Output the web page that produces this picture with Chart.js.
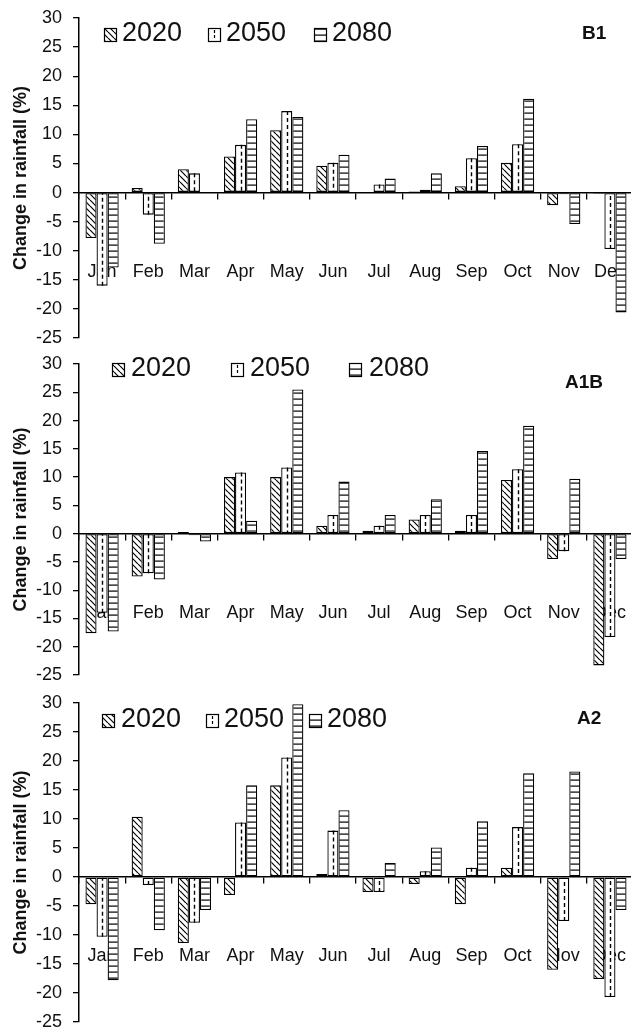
<!DOCTYPE html>
<html><head><meta charset="utf-8">
<script src="https://cdn.jsdelivr.net/npm/chart.js@4.4.1/dist/chart.umd.min.js"></script>
<style>
html,body{margin:0;padding:0;background:#fff;overflow:hidden;width:631px;height:1032px;position:relative;}
canvas{position:absolute;left:0;display:block;}
</style></head><body>
<canvas id="c1" width="640" height="364" style="top:-4px"></canvas>
<canvas id="c2" width="640" height="355" style="top:342px"></canvas>
<canvas id="c3" width="640" height="363" style="top:681px"></canvas>
<script>
// ---------- data ----------
const months = ['Jan','Feb','Mar','Apr','May','Jun','Jul','Aug','Sep','Oct','Nov','Dec'];
const seriesLabels = ['2020','2050','2080'];
const yMin = -25, yMax = 30, yStep = 5;
const yTitle = 'Change in rainfall (%)';

const b1_2020 = [-7.8, 0.8, 4.0, 6.2, 10.7, 4.6, 0, 0.2, 1.1, 5.1, -2.2, -0.2];
const b1_2050 = [-16.0, -3.8, 3.3, 8.2, 14.0, 5.1, 1.4, 0.5, 5.9, 8.3, -0.3, -9.7];
const b1_2080 = [-12.9, -8.8, 0, 12.6, 13.0, 6.5, 2.4, 3.3, 8.0, 16.1, -5.4, -20.6];

const a1b_2020 = [-17.6, -7.6, 0.3, 10.0, 10.0, 1.4, 0.5, 2.5, 0.5, 9.5, -4.5, -23.3];
const a1b_2050 = [-14.0, -7.0, -0.3, 10.8, 11.7, 3.3, 1.4, 3.3, 3.3, 11.4, -3.1, -18.3];
const a1b_2080 = [-17.3, -8.1, -1.4, 2.3, 25.5, 9.2, 3.3, 6.1, 14.6, 19.1, 9.7, -4.5];

const a2_2020 = [-4.7, 10.4, -11.4, -3.1, 15.8, 0.5, -2.6, -1.2, -4.7, 1.6, -16.0, -17.6];
const a2_2050 = [-10.3, -1.4, -7.9, 9.4, 20.6, 8.0, -2.6, 1.0, 1.6, 8.6, -7.6, -20.7];
const a2_2080 = [-17.8, -9.2, -5.7, 15.8, 29.8, 11.5, 2.4, 5.1, 9.6, 17.9, 18.2, -5.7];

// ---------- styles ----------
const FONT = '"Liberation Sans", Arial, Helvetica, sans-serif';
const INK = '#111';

function hatchPattern(){
  const c = document.createElement('canvas'); c.width = 6; c.height = 6;
  const x = c.getContext('2d');
  x.fillStyle = '#fff'; x.fillRect(0,0,6,6);
  x.strokeStyle = '#000'; x.lineWidth = 1.2;
  x.beginPath();
  for (const k of [-6,0,6]) { x.moveTo(k,0); x.lineTo(k+6,6); }
  x.stroke();
  return x.createPattern(c,'repeat');
}
function stripePattern(){
  const c = document.createElement('canvas'); c.width = 6; c.height = 6;
  const x = c.getContext('2d');
  x.fillStyle = '#fff'; x.fillRect(0,0,6,6);
  x.fillStyle = '#000'; x.fillRect(0,2.5,6,1.2);
  return x.createPattern(c,'repeat');
}

const dashPlugin = {
  id:'dash2050',
  afterDatasetsDraw(chart){
    const ctx = chart.ctx;
    const meta = chart.getDatasetMeta(1);
    ctx.save();
    ctx.strokeStyle = '#000'; ctx.lineWidth = 1.4; ctx.setLineDash([4,3]);
    meta.data.forEach(el => {
      const {x, y, base} = el.getProps(['x','y','base'], true);
      if (Math.abs(base - y) < 3) return;
      ctx.beginPath(); ctx.moveTo(Math.round(x)+0.5, y); ctx.lineTo(Math.round(x)+0.5, base); ctx.stroke();
    });
    ctx.restore();
  }
};

const decorPlugin = {
  id:'decor',
  afterDatasetsDraw(chart, args, opts){
    const ctx = chart.ctx;
    const ds = chart.data.datasets;
    ctx.save();
    ctx.font = '27px ' + FONT; ctx.fillStyle = INK; ctx.textBaseline = 'middle'; ctx.textAlign = 'left';
    ds.forEach((d, i) => {
      const bx = opts.boxX[i], by = opts.y - 6;
      ctx.fillStyle = d.backgroundColor;
      ctx.fillRect(bx, by, 12, 13);
      ctx.strokeStyle = '#000'; ctx.lineWidth = 1.2; ctx.setLineDash([]);
      ctx.strokeRect(bx+0.5, by+0.5, 12, 13);
      if (i === 1) {
        ctx.setLineDash([3,2]);
        ctx.beginPath(); ctx.moveTo(bx+6.5, by+2); ctx.lineTo(bx+6.5, by+12); ctx.stroke();
        ctx.setLineDash([]);
      }
      ctx.fillStyle = INK;
      ctx.fillText(d.label, opts.textX[i], opts.y);
    });
    ctx.font = 'bold 19px ' + FONT;
    ctx.fillText(opts.name, opts.nameX, opts.nameY);
    ctx.restore();
  }
};

function makeChart(id, v2020, v2050, v2080, decor){
  const hatch = hatchPattern(), stripes = stripePattern();
  const common = {borderColor:'#000', borderWidth:1.3, borderSkipped:false, categoryPercentage:0.72, barPercentage:1.0};
  return new Chart(document.getElementById(id), {
    type:'bar',
    data:{
      labels: months,
      datasets:[
        Object.assign({label:seriesLabels[0], data:v2020, backgroundColor:hatch}, common),
        Object.assign({label:seriesLabels[1], data:v2050, backgroundColor:'#fff'}, common),
        Object.assign({label:seriesLabels[2], data:v2080, backgroundColor:stripes}, common)
      ]
    },
    options:{
      responsive:false, animation:false, devicePixelRatio:1,
      layout:{padding:{top:22, bottom:22, left:0, right:7}},
      plugins:{legend:{display:false}, tooltip:{enabled:false}, decor:decor},
      scales:{
        x:{
          type:'category', position:{y:0}, offset:true,
          grid:{display:true, drawOnChartArea:false, drawTicks:true, tickLength:6, color:'#000', lineWidth:1.3, offset:true},
          border:{display:true, color:'#000', width:1.5},
          ticks:{color:INK, font:{family:FONT, size:18, lineHeight:146/18}, padding:0, maxRotation:0, autoSkip:false}
        },
        y:{
          min:yMin, max:yMax,
          ticks:{stepSize:yStep, color:INK, font:{family:FONT, size:18}, padding:11},
          grid:{drawOnChartArea:false, drawTicks:true, tickLength:6, color:'#000', lineWidth:1.3},
          border:{display:true, color:'#000', width:1.5},
          title:{display:true, text:yTitle, color:INK, font:{family:FONT, size:18, weight:'bold'}, padding:{top:10, bottom:0}},
          afterFit(s){ s.width = 79; }
        }
      }
    },
    plugins:[dashPlugin, decorPlugin]
  });
}

makeChart('c1', b1_2020, b1_2050, b1_2080,
  {y:38, boxX:[104,208,314], textX:[122,226,332], name:'B1', nameX:582, nameY:38});
makeChart('c2', a1b_2020, a1b_2050, a1b_2080,
  {y:27, boxX:[112,231,349], textX:[131,250,369], name:'A1B', nameX:565, nameY:41});
makeChart('c3', a2_2020, a2_2050, a2_2080,
  {y:39, boxX:[102,206,309], textX:[121,224,327], name:'A2', nameX:577, nameY:38});
</script>
</body></html>
